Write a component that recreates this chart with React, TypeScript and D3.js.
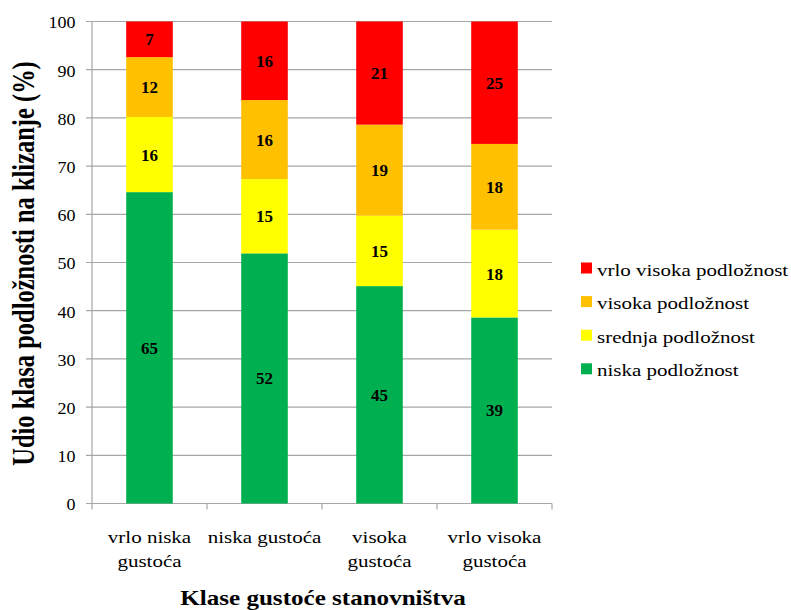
import React from "react";
import * as d3 from "d3";

const categories = [["vrlo niska", "gustoća"], ["niska gustoća"], ["visoka", "gustoća"], ["vrlo visoka", "gustoća"]];
const seriesNames = ["niska podložnost", "srednja podložnost", "visoka podložnost", "vrlo visoka podložnost"];
const seriesColors = ["#00B050", "#FFFF00", "#FFC000", "#FF0000"];
const niska = [64.6, 51.9, 45.1, 38.6];
const srednja = [15.6, 15.4, 14.6, 18.2];
const visoka = [12.4, 16.4, 18.9, 17.8];
const vrloVisoka = [7.4, 16.3, 21.4, 25.4];
const yTicks = [0, 10, 20, 30, 40, 50, 60, 70, 80, 90, 100];

const font = "Liberation Serif";

function SText(props: { x: number; y: number; sx?: number; sy?: number; size: number; bold?: boolean; anchor?: string; children: React.ReactNode }) {
  const { x, y, sx = 1, sy = 1, size, bold, anchor = "start", children } = props;
  return (
    <text
      transform={`translate(${x},${y}) scale(${sx},${sy})`}
      textAnchor={anchor}
      fontSize={size}
      fontWeight={bold ? "bold" : "normal"}
      style={{ fontFamily: font }}
      fill="#000"
    >
      {children}
    </text>
  );
}

export default function App() {
  const W = 791, H = 610;
  const left = 92, right = 552, top = 21.5, bottom = 503.5;
  const series = [niska, srednja, visoka, vrloVisoka];
  const x = d3.scaleBand<number>().domain(d3.range(categories.length)).range([left, right]).paddingInner(0).paddingOuter(0);
  const y = d3.scaleLinear().domain([0, 100]).range([bottom, top]);
  const barW = x.bandwidth() * 0.405;

  const stacks = categories.map((_, i) => {
    let acc = 0;
    return series.map((s, k) => {
      const y0 = acc;
      acc += s[i];
      return { k, y0, y1: acc, v: s[i] };
    });
  });

  return (
    <svg width={W} height={H} style={{ position: "absolute", left: 0, top: 0, background: "#fff" }}>
      {yTicks.map((t) => (
        <g key={t}>
          <line x1={left - 6} x2={right} y1={y(t)} y2={y(t)} stroke="#A6A6A6" strokeWidth={1.2} />
          <SText x={75.5} y={y(t) + 6.8} sx={1.06} size={17} anchor="end">{t}</SText>
        </g>
      ))}
      <line x1={left} x2={left} y1={top} y2={bottom} stroke="#A6A6A6" strokeWidth={1.2} />
      {d3.range(categories.length + 1).map((i) => {
        const xx = i < categories.length ? x(i)! : right;
        return <line key={i} x1={xx} x2={xx} y1={bottom} y2={bottom + 6} stroke="#A6A6A6" strokeWidth={1.2} />;
      })}
      {stacks.map((st, i) => {
        const cx = x(i)! + x.bandwidth() / 2;
        return (
          <g key={i}>
            {st.map((s) => (
              <rect key={s.k} x={cx - barW / 2} width={barW} y={y(s.y1)} height={y(s.y0) - y(s.y1)} fill={seriesColors[s.k]} />
            ))}
            {st.map((s) => (
              <SText key={"t" + s.k} x={cx} y={(y(s.y0) + y(s.y1)) / 2 + 6} size={17} bold anchor="middle">
                {Math.round(s.v)}
              </SText>
            ))}
          </g>
        );
      })}
      {categories.map((lines, i) => {
        const cx = x(i)! + x.bandwidth() / 2;
        return (
          <g key={i}>
            {lines.map((l, j) => (
              <SText key={j} x={cx} y={543 + j * 24} sx={1.2} size={17.5} anchor="middle">{l}</SText>
            ))}
          </g>
        );
      })}
      <SText x={323} y={605} sx={1.14} size={22} bold anchor="middle">Klase gustoće stanovništva</SText>
      <text
        transform="translate(34,263.5) rotate(-90) scale(1.02,1.3)"
        textAnchor="middle"
        fontSize={24}
        fontWeight="bold"
        style={{ fontFamily: font }}
      >
        Udio klasa podložnosti na klizanje (%)
      </text>
      {[3, 2, 1, 0].map((k, r) => {
        const cy = 268 + r * 33.6;
        return (
          <g key={k}>
            <rect x={581} y={cy - 5.5} width={11} height={11} fill={seriesColors[k]} />
            <SText x={597} y={cy + 7.5} sx={1.2} size={17.5}>{seriesNames[k]}</SText>
          </g>
        );
      })}
    </svg>
  );
}
